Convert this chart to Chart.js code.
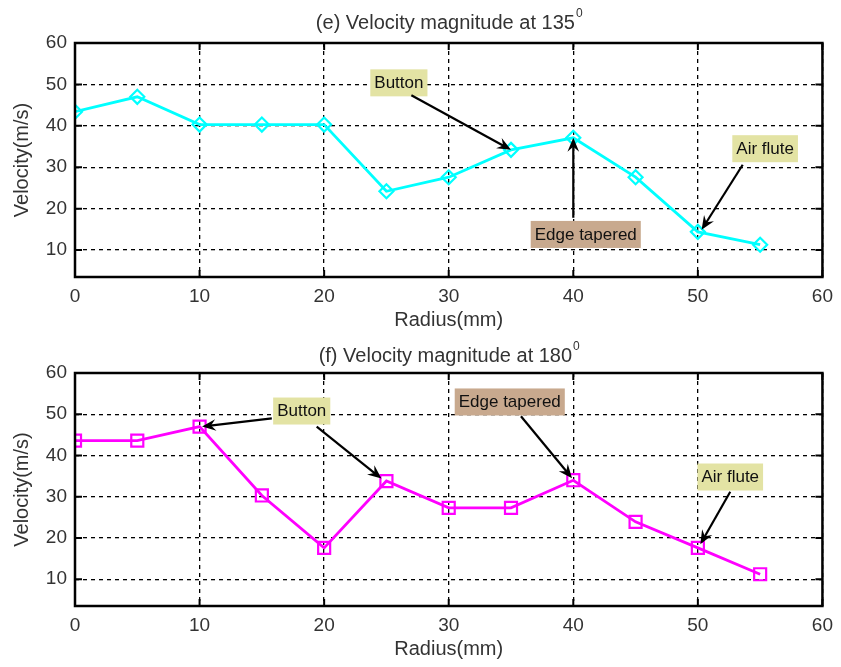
<!DOCTYPE html>
<html>
<head>
<meta charset="utf-8">
<script src="https://cdn.jsdelivr.net/npm/chart.js@4.4.1/dist/chart.umd.min.js"></script>
<style>
  body { margin: 0; background: #fff; }
  .box { position: absolute; left: 0; width: 841px; }
</style>
</head>
<body>
<div class="box" style="top:0;height:333px"><canvas id="c135"></canvas></div>
<div class="box" style="top:333px;height:334px"><canvas id="c180"></canvas></div>
<script>
// radius positions (mm)
var radius = [0, 5, 10, 15, 20, 25, 30, 35, 40, 45, 50, 55];
// velocity magnitude (m/s)
var vel135 = [43.4, 47.0, 40.3, 40.3, 40.3, 24.2, 27.6, 34.2, 37.1, 27.6, 14.4, 11.3];
var vel180 = [43.6, 43.6, 47.0, 30.3, 17.6, 33.8, 27.3, 27.3, 34.0, 23.9, 17.6, 11.2];
// tick labels
var xTicks = [0, 10, 20, 30, 40, 50, 60];
var yTicks = [10, 20, 30, 40, 50, 60];

// callouts: text box centre + arrow start/end, all in data units
var notes135 = [
  { text: 'Button', x: 26, y: 50.5, bg: '#e3e3a4', arrows: [[27.0, 47.4, 35, 34.2]] },
  { text: 'Edge tapered', x: 41.0, y: 13.9, bg: '#c8a98e', arrows: [[40, 17.8, 40, 37.1]] },
  { text: 'Air flute', x: 55.4, y: 34.6, bg: '#e3e3a4', arrows: [[53.6, 30.6, 50.3, 14.9]] }
];
var notes180 = [
  { text: 'Button', x: 18.2, y: 50.9, bg: '#e3e3a4', arrows: [[15.8, 49.0, 10.2, 47.0], [19.4, 47.0, 24.6, 34.4]] },
  { text: 'Edge tapered', x: 34.9, y: 53.1, bg: '#c8a98e', arrows: [[35.8, 49.5, 39.9, 34.5]] },
  { text: 'Air flute', x: 52.6, y: 34.9, bg: '#e3e3a4', arrows: [[52.6, 31.2, 50.2, 18.5]] }
];

var font = "'Liberation Sans', Arial, sans-serif";

function drawArrow(ctx, x1, y1, x2, y2) {
  var a = Math.atan2(y2 - y1, x2 - x1);
  var len = 15, w = 0.4;
  ctx.strokeStyle = '#000';
  ctx.fillStyle = '#000';
  ctx.lineWidth = 2.2;
  ctx.beginPath();
  ctx.moveTo(x1, y1);
  ctx.lineTo(x2 - Math.cos(a) * 6, y2 - Math.sin(a) * 6);
  ctx.stroke();
  ctx.beginPath();
  ctx.moveTo(x2, y2);
  ctx.lineTo(x2 - len * Math.cos(a - w), y2 - len * Math.sin(a - w));
  ctx.lineTo(x2 - len * 0.6 * Math.cos(a), y2 - len * 0.6 * Math.sin(a));
  ctx.lineTo(x2 - len * Math.cos(a + w), y2 - len * Math.sin(a + w));
  ctx.closePath();
  ctx.fill();
}

var matlabBox = {
  id: 'matlabBox',
  afterDatasetsDraw: function (chart, args, opts) {
    var ctx = chart.ctx, a = chart.chartArea;
    var xs = chart.scales.x, ys = chart.scales.y;
    ctx.save();
    // callouts
    opts.notes.forEach(function (n) {
      ctx.font = '17px ' + font;
      var tw = ctx.measureText(n.text).width;
      var cx = xs.getPixelForValue(n.x), cy = ys.getPixelForValue(n.y);
      ctx.fillStyle = n.bg;
      ctx.fillRect(cx - tw / 2 - 4, cy - 13, tw + 8, 27);
      ctx.fillStyle = '#111';
      ctx.textAlign = 'center';
      ctx.textBaseline = 'middle';
      ctx.fillText(n.text, cx, cy + 1);
      n.arrows.forEach(function (p) {
        drawArrow(ctx, xs.getPixelForValue(p[0]), ys.getPixelForValue(p[1]),
                  xs.getPixelForValue(p[2]), ys.getPixelForValue(p[3]));
      });
    });
    // axes box with inward ticks
    ctx.strokeStyle = '#000';
    ctx.lineWidth = 2.5;
    ctx.strokeRect(a.left, a.top, a.right - a.left, a.bottom - a.top);
    ctx.lineWidth = 2;
    ctx.beginPath();
    xTicks.forEach(function (v) {
      var px = xs.getPixelForValue(v);
      ctx.moveTo(px, a.bottom); ctx.lineTo(px, a.bottom - 7);
      ctx.moveTo(px, a.top); ctx.lineTo(px, a.top + 7);
    });
    yTicks.forEach(function (v) {
      var py = ys.getPixelForValue(v);
      ctx.moveTo(a.left, py); ctx.lineTo(a.left + 7, py);
      ctx.moveTo(a.right, py); ctx.lineTo(a.right - 7, py);
    });
    ctx.stroke();
    // title with superscript degree
    var t = opts.title, ty = opts.titleY;
    ctx.font = '20px ' + font;
    ctx.fillStyle = '#333';
    ctx.textBaseline = 'middle';
    ctx.textAlign = 'left';
    var w1 = ctx.measureText(t).width;
    ctx.font = '12px ' + font;
    var w2 = ctx.measureText('0').width;
    var sx = (a.left + a.right) / 2 - (w1 + w2) / 2;
    ctx.font = '20px ' + font;
    ctx.fillText(t, sx, ty);
    ctx.font = '12px ' + font;
    ctx.fillText('0', sx + w1 + 1, ty - 9);
    ctx.restore();
  }
};

function makeChart(id, values, color, style, notes, title, titleY, top, xHeight, titlePad) {
  new Chart(document.getElementById(id), {
    type: 'line',
    data: {
      datasets: [{
        data: radius.map(function (r, i) { return { x: r, y: values[i] }; }),
        borderColor: color,
        borderWidth: 2.8,
        pointStyle: style,
        pointRadius: style === 'rect' ? 8.5 : 7,
        pointBorderColor: color,
        pointBackgroundColor: 'rgba(0,0,0,0)',
        pointBorderWidth: 2.2,
        tension: 0
      }]
    },
    options: {
      responsive: true,
      maintainAspectRatio: false,
      animation: false,
      events: [],
      layout: { padding: { top: top, right: 14, left: 0, bottom: 0 } },
      plugins: {
        legend: { display: false },
        tooltip: { enabled: false },
        matlabBox: { notes: notes, title: title, titleY: titleY }
      },
      scales: {
        x: {
          type: 'linear', min: 0, max: 60,
          afterBuildTicks: function (s) { s.ticks = xTicks.map(function (v) { return { value: v }; }); },
          afterFit: function (s) { s.height = xHeight; },
          grid: { color: '#000', lineWidth: 1.3, drawTicks: false },
          border: { display: false, dash: [4, 4] },
          ticks: { color: '#333', font: { family: font, size: 19 }, padding: 8, maxRotation: 0 },
          title: { display: true, text: 'Radius(mm)', color: '#333', font: { family: font, size: 20 }, padding: { top: 0, bottom: titlePad } }
        },
        y: {
          type: 'linear', min: 3.5, max: 60,
          afterBuildTicks: function (s) { s.ticks = yTicks.map(function (v) { return { value: v }; }); },
          afterFit: function (s) { s.width = 75; },
          grid: { color: '#000', lineWidth: 1.3, drawTicks: false },
          border: { display: false, dash: [4, 4] },
          ticks: { color: '#333', font: { family: font, size: 19 }, padding: 8 },
          title: { display: true, text: 'Velocity(m/s)', color: '#333', font: { family: font, size: 20 }, padding: { top: 10, bottom: 0 } }
        }
      }
    },
    plugins: [matlabBox]
  });
}

makeChart('c135', vel135, '#00ffff', 'rectRot', notes135, '(e) Velocity magnitude at 135', 23, 43, 56, 1);
makeChart('c180', vel180, '#ff00ff', 'rect', notes180, '(f) Velocity magnitude at 180', 23, 40, 61, 6);
</script>
</body>
</html>
